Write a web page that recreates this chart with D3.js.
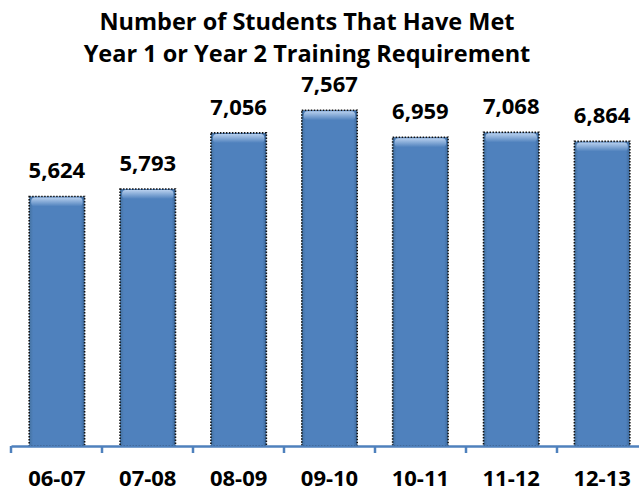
<!DOCTYPE html>
<html lang="en">
<head>
<meta charset="UTF-8">
<title>Students Training Requirement</title>
<script src="https://d3js.org/d3.v7.min.js"></script>
<style>
    body { margin: 0; padding: 0; background: #ffffff; }
    svg { display: block; }
    .title { font-family: "Open Sans", sans-serif; font-weight: 700; font-size: 23.5px; fill: #000; }
    .value { font-family: "Open Sans", sans-serif; font-weight: 700; font-size: 22px; fill: #000; }
    .cat { font-family: "Open Sans", sans-serif; font-weight: 700; font-size: 22px; fill: #000; }
</style>
</head>
<body>
<svg id="chart"></svg>
<script>
    const years = ["06-07", "07-08", "08-09", "09-10", "10-11", "11-12", "12-13"];
    const students = [5624, 5793, 7056, 7567, 6959, 7068, 6864];
    const titleLines = ["Number of Students That Have Met", "Year 1 or Year 2 Training Requirement"];

    const width = 639, height = 491;
    const baseY = 446;

    const svg = d3.select("#chart").attr("width", width).attr("height", height);

    // gradients for the bevelled bars
    const defs = svg.append("defs");
    const grad = defs.append("linearGradient").attr("id", "barTop")
        .attr("x1", 0).attr("y1", 0).attr("x2", 0).attr("y2", 1);
    grad.append("stop").attr("offset", "0%").attr("stop-color", "#b8d0ee");
    grad.append("stop").attr("offset", "100%").attr("stop-color", "#4f81bd");
    const side = defs.append("linearGradient").attr("id", "barSide")
        .attr("x1", 0).attr("y1", 0).attr("x2", 1).attr("y2", 0);
    side.append("stop").attr("offset", "0%").attr("stop-color", "#44719f");
    side.append("stop").attr("offset", "7%").attr("stop-color", "#4f81bd");
    side.append("stop").attr("offset", "93%").attr("stop-color", "#4f81bd");
    side.append("stop").attr("offset", "100%").attr("stop-color", "#3d6899");

    const x = d3.scaleBand().domain(years).range([11, 11 + 91 * years.length]).paddingInner(0.39).paddingOuter(0.2);
    const y = d3.scaleLinear().domain([0, 8000]).range([baseY, baseY - 355]);

    // title
    svg.selectAll("text.title").data(titleLines).enter().append("text")
        .attr("class", "title")
        .attr("x", 307)
        .attr("y", (d, i) => 30 + i * 32)
        .attr("text-anchor", "middle")
        .text(d => d);

    const data = years.map((yr, i) => ({ year: yr, value: students[i] }));

    const bars = svg.selectAll("g.bar").data(data).enter().append("g").attr("class", "bar");

    bars.append("rect")
        .attr("x", d => x(d.year))
        .attr("y", d => y(d.value))
        .attr("width", x.bandwidth())
        .attr("height", d => baseY - y(d.value))
        .attr("fill", "url(#barSide)")
        .attr("stroke", "#111")
        .attr("stroke-width", 1.6)
        .attr("stroke-dasharray", "1.5,1.5");

    bars.append("rect")
        .attr("x", d => x(d.year) + 2)
        .attr("y", d => y(d.value) + 1)
        .attr("width", x.bandwidth() - 4)
        .attr("height", 9)
        .attr("rx", 4)
        .attr("fill", "url(#barTop)");

    bars.append("text")
        .attr("class", "value")
        .attr("x", d => x(d.year) + x.bandwidth() / 2)
        .attr("y", d => y(d.value) - 18)
        .attr("text-anchor", "middle")
        .text(d => d3.format(",")(d.value));

    // x axis
    const axis = d3.axisBottom(x).tickSize(0).tickPadding(24);
    const axisG = svg.append("g").attr("transform", `translate(0,${baseY})`).call(axis);
    axisG.select(".domain").attr("stroke", "#4f81bd").attr("stroke-width", 2.5);
    axisG.selectAll(".tick text").attr("class", "cat").attr("font-size", null).attr("font-family", null);

    // separators between categories
    const sep = d3.range(years.length + 1).map(i => 11 + i * 91);
    svg.selectAll("line.sep").data(sep).enter().append("line")
        .attr("x1", d => d).attr("x2", d => d)
        .attr("y1", baseY).attr("y2", baseY + 7)
        .attr("stroke", "#4f81bd").attr("stroke-width", 2.5);
</script>
</body>
</html>
